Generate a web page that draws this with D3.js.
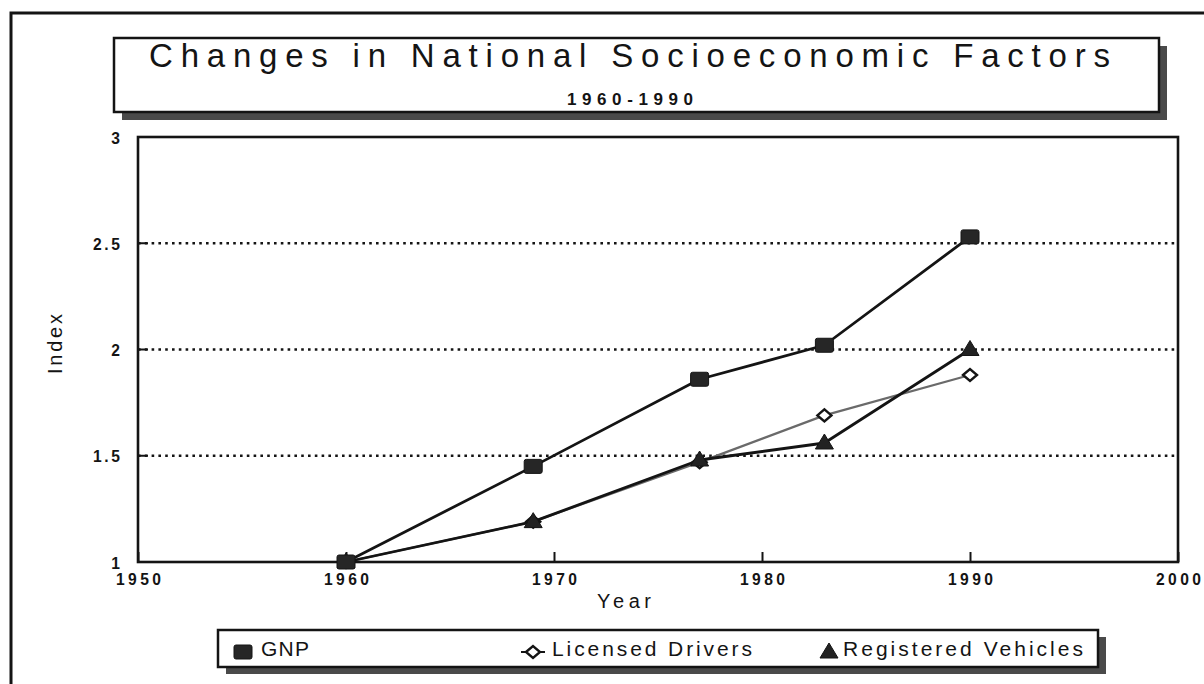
<!DOCTYPE html>
<html>
<head>
<meta charset="utf-8">
<script src="https://cdn.jsdelivr.net/npm/d3@7"></script>
<style>
  html, body { margin: 0; padding: 0; background: #fff; }
  svg text { font-family: Arial, "Liberation Sans", Helvetica, sans-serif; fill: #141414; }
</style>
</head>
<body>
<svg id="chart" width="1204" height="684"></svg>
<script>
// Index values relative to 1960 (= 1.0)
const years = [1960, 1969, 1977, 1983, 1990];
const gnp = [1.00, 1.45, 1.86, 2.02, 2.53];
const licensedDrivers = [1.00, 1.19, 1.47, 1.69, 1.88];
const registeredVehicles = [1.00, 1.19, 1.48, 1.56, 2.00];

const xTicks = [1950, 1960, 1970, 1980, 1990, 2000];
const yTicks = [1, 1.5, 2, 2.5, 3];
const gridValues = [1.5, 2, 2.5];
const seriesNames = ["GNP", "Licensed Drivers", "Registered Vehicles"];

const svg = d3.select("#chart");
const ink = "#141414";
const tickSqueeze = 0.92;   // slightly condensed digits on the axes

// letter-spaced label; width (if given) is the drawn width in px
function label(opts) {
  const sx = opts.sx || 1;
  const g = svg.append("g")
    .attr("transform", `translate(${opts.x},${opts.y}) rotate(${opts.rotate || 0}) scale(${sx},1)`);
  const t = g.append("text")
    .attr("font-size", opts.size)
    .attr("font-weight", opts.weight || "normal")
    .attr("text-anchor", opts.anchor || "start")
    .text(opts.text);
  if (opts.width) t.attr("textLength", opts.width / sx).attr("lengthAdjust", "spacing");
  return t;
}

// outer page frame
svg.append("path")
  .attr("d", "M11,690 L11,13 L1210,13")
  .attr("fill", "none").attr("stroke", ink).attr("stroke-width", 3);

// plot area
const plot = { left: 138, right: 1178, top: 137, bottom: 562 };
const x = d3.scaleLinear().domain([1950, 2000]).range([plot.left, plot.right]);
const y = d3.scaleLinear().domain([1, 3]).range([plot.bottom, plot.top]);

// framed box with drop shadow
function shadowBox(x0, y0, w, h, dx, dy) {
  svg.append("rect").attr("x", x0 + dx).attr("y", y0 + dy).attr("width", w).attr("height", h)
    .attr("fill", "#4a4a4a");
  svg.append("rect").attr("x", x0).attr("y", y0).attr("width", w).attr("height", h)
    .attr("fill", "#fff").attr("stroke", ink).attr("stroke-width", 2.5);
}
shadowBox(114, 38, 1045, 74, 8, 8);

label({ x: 149, y: 67, size: 33, width: 961, text: "Changes in National Socioeconomic Factors" });
label({ x: 567, y: 105, size: 17, width: 126, weight: "bold", text: "1960-1990" });

// gridlines (dotted) with short solid stubs at left
svg.append("g").selectAll("line").data(gridValues).join("line")
  .attr("x1", plot.left).attr("x2", plot.right)
  .attr("y1", d => y(d)).attr("y2", d => y(d))
  .attr("stroke", ink).attr("stroke-width", 2.6)
  .attr("stroke-dasharray", "2.6,4.2");
svg.append("g").selectAll("line").data(gridValues).join("line")
  .attr("x1", plot.left).attr("x2", plot.left + 10)
  .attr("y1", d => y(d)).attr("y2", d => y(d))
  .attr("stroke", ink).attr("stroke-width", 2);

// plot frame
svg.append("rect")
  .attr("x", plot.left).attr("y", plot.top)
  .attr("width", plot.right - plot.left).attr("height", plot.bottom - plot.top)
  .attr("fill", "none").attr("stroke", ink).attr("stroke-width", 2.6);

// x axis: inward ticks, letter-spaced labels
const xAxis = d3.axisBottom(x).tickValues(xTicks).tickFormat(d3.format("d"))
  .tickSizeInner(-10).tickSizeOuter(0).tickPadding(0);
const gx = svg.append("g").attr("transform", `translate(0,${plot.bottom})`).call(xAxis);
gx.select(".domain").remove();
gx.selectAll(".tick line").attr("stroke", ink).attr("stroke-width", 2);
gx.selectAll(".tick text")
  .attr("y", 0).attr("dy", 0)
  .attr("transform", `translate(0,23) scale(${tickSqueeze},1)`)
  .attr("font-size", 17).attr("font-weight", "bold")
  .attr("textLength", 45 / tickSqueeze).attr("lengthAdjust", "spacing")
  .attr("fill", ink).attr("font-family", "Arial, 'Liberation Sans', sans-serif");

// y axis labels
const yAxis = d3.axisLeft(y).tickValues(yTicks).tickFormat(d => String(d))
  .tickSize(0).tickPadding(0);
const gy = svg.append("g").attr("transform", `translate(${plot.left},0)`).call(yAxis);
gy.select(".domain").remove();
gy.selectAll(".tick text")
  .attr("x", 0).attr("dy", 0)
  .attr("transform", `translate(-18,6) scale(${tickSqueeze},1)`)
  .attr("font-size", 17).attr("font-weight", "bold")
  .attr("fill", ink).attr("font-family", "Arial, 'Liberation Sans', sans-serif")
  .each(function (d) {
    if (String(d).length > 1) d3.select(this).attr("textLength", 27 / tickSqueeze).attr("lengthAdjust", "spacing");
  });

// axis titles
label({ x: 624, y: 608, size: 20, width: 54, anchor: "middle", text: "Year" });
label({ x: 62, y: 344, size: 20, width: 60, anchor: "middle", rotate: -90, text: "Index" });

// series lines
const line = d3.line().x(d => x(d[0])).y(d => y(d[1]));
const seriesData = [
  { name: seriesNames[0], values: gnp, stroke: ink, width: 2.8, marker: "square" },
  { name: seriesNames[1], values: licensedDrivers, stroke: "#6a6a6a", width: 2.2, marker: "diamond" },
  { name: seriesNames[2], values: registeredVehicles, stroke: ink, width: 2.8, marker: "triangle" }
];

// markers
function drawMarker(g, type, cx, cy) {
  if (type === "square") {
    g.append("rect").attr("x", cx - 9).attr("y", cy - 7).attr("width", 18).attr("height", 14)
      .attr("rx", 2).attr("fill", "#262626").attr("stroke", ink).attr("stroke-width", 1);
  } else if (type === "diamond") {
    g.append("path")
      .attr("d", `M${cx - 7},${cy} L${cx},${cy - 6} L${cx + 7},${cy} L${cx},${cy + 6} Z`)
      .attr("fill", "#fff").attr("stroke", ink).attr("stroke-width", 2.4);
  } else {
    g.append("path")
      .attr("d", `M${cx - 9},${cy + 6} L${cx},${cy - 9} L${cx + 9},${cy + 6} Z`)
      .attr("fill", "#222").attr("stroke", ink).attr("stroke-width", 1);
  }
}

const drawOrder = [seriesData[1], seriesData[2], seriesData[0]];
drawOrder.forEach(s => {
  const pts = years.map((yr, i) => [yr, s.values[i]]);
  svg.append("path").datum(pts)
    .attr("d", line).attr("fill", "none")
    .attr("stroke", s.stroke).attr("stroke-width", s.width)
    .attr("stroke-linejoin", "round");
});
drawOrder.forEach(s => {
  const g = svg.append("g");
  years.forEach((yr, i) => drawMarker(g, s.marker, x(yr), y(s.values[i])));
});

// legend box with shadow
shadowBox(218, 630, 880, 37, 8, 7);
const legendItems = [
  { name: seriesNames[0], marker: "square", mx: 243, tx: 261, w: 48 },
  { name: seriesNames[1], marker: "diamond", mx: 533, tx: 552, w: 200 },
  { name: seriesNames[2], marker: "triangle", mx: 829, tx: 843, w: 240 }
];
legendItems.forEach(it => {
  const g = svg.append("g");
  if (it.marker === "diamond") {
    g.append("line").attr("x1", it.mx - 12).attr("x2", it.mx + 12)
      .attr("y1", 652).attr("y2", 652).attr("stroke", ink).attr("stroke-width", 2);
  }
  drawMarker(g, it.marker, it.mx, 652);
  label({ x: it.tx, y: 656, size: 21, width: it.w, text: it.name });
});
</script>
</body>
</html>
